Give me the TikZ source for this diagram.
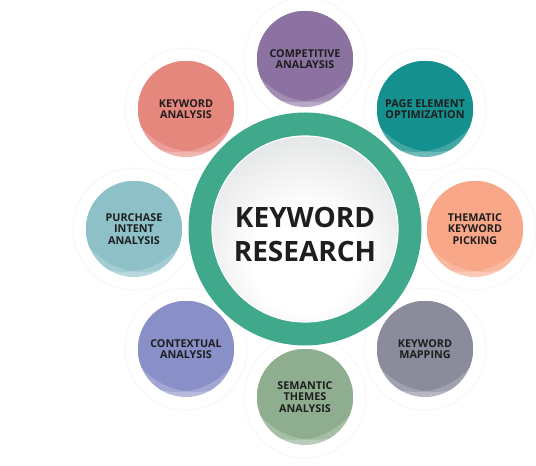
\documentclass[tikz,border=0pt]{standalone}
\usepackage{fontspec}
\setmainfont{Open Sans}
\definecolor{ringgreen}{HTML}{40A98B}
\definecolor{kwgray}{HTML}{C6C9CB}
\definecolor{textdark}{HTML}{1E1E1E}
\definecolor{faintline}{HTML}{F3F3F3}
\definecolor{cpurple}{HTML}{8C72A0}
\definecolor{cteal}{HTML}{14908E}
\definecolor{cpeach}{HTML}{F8A888}
\definecolor{cslate}{HTML}{8A8B9B}
\definecolor{csage}{HTML}{8FAE8F}
\definecolor{cperi}{HTML}{8990C8}
\definecolor{cblue}{HTML}{8EC0C8}
\definecolor{csalmon}{HTML}{E6877E}
\pgfdeclareradialshading{kwshade}{\pgfpoint{0bp}{-10bp}}{color(0bp)=(white); color(14bp)=(white); color(52bp)=(kwgray); color(80bp)=(kwgray)}
\tikzset{
  faint/.style={draw=faintline, line width=0.6pt},
  sattext/.style={font=\bfseries\fontsize{10.8}{11.5}\selectfont, align=center, text=textdark, inner sep=0pt},
  maintext/.style={font=\bfseries\fontsize{28}{34}\selectfont, align=center, text=textdark, inner sep=0pt}
}
\newcommand\satellite[4]{%
  \begin{scope}[shift={#2}]
    \draw[faint] (0,0) circle (61pt);
    \fill[#3!62!white] (0,0) circle (48pt);
    \begin{scope}
      \clip (0,0) circle (48pt);
      \fill[#3!80!white] (-9.6,29.1) circle (72pt);
      \fill[#3!80!white] (9.6,29.1) circle (72pt);
      \clip (-9.6,29.1) circle (72pt);
      \fill[#3] (9.6,29.1) circle (72pt);
    \end{scope}
    \node[sattext] (#1) at (0,0) {#4};
  \end{scope}}
\begin{document}
\begin{tikzpicture}[x=1pt,y=1pt]
  \useasboundingbox[fill=white] (0,0) rectangle (536,466);
  \coordinate (c) at (305,237);
  % satellites
  \satellite{comp}{(305,407)}{cpurple}{COMPETITIVE\\ANALAYSIS}
  \satellite{page}{(425,357)}{cteal}{PAGE ELEMENT\\OPTIMIZATION}
  \satellite{them}{(475,237)}{cpeach}{THEMATIC\\KEYWORD\\PICKING}
  \satellite{map}{(425,117)}{cslate}{KEYWORD\\MAPPING}
  \satellite{sem}{(305,69)}{csage}{SEMANTIC\\THEMES\\ANALYSIS}
  \satellite{ctx}{(186,117)}{cperi}{CONTEXTUAL\\ANALYSIS}
  \satellite{pur}{(134,237)}{cblue}{PURCHASE\\INTENT\\ANALYSIS}
  \satellite{kwa}{(186,357)}{csalmon}{KEYWORD\\ANALYSIS}
  % main hub
  \fill[ringgreen] (c) circle (116.5pt);
  \path[shading=kwshade, draw=white, line width=1.2pt] (c) circle (93pt);
  \node[maintext] (main) at (305,232) {KEYWORD\\RESEARCH};
\end{tikzpicture}
\end{document}
